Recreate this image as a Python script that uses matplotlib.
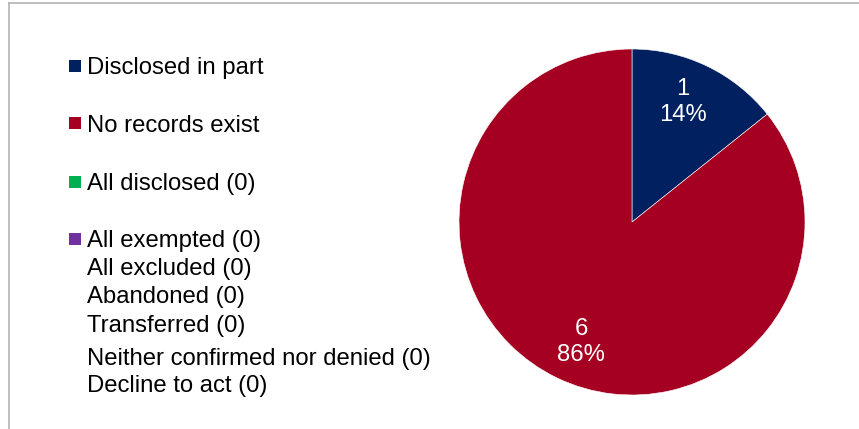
import matplotlib
matplotlib.use("Agg")
import matplotlib.pyplot as plt
from matplotlib.patches import Rectangle
from matplotlib.lines import Line2D

plt.rcParams['font.family'] = ['Liberation Sans', 'DejaVu Sans']

# Data
categories = ["Disclosed in part", "No records exist"]
values = [1, 6]
slice_colors = ["#002060", "#A50021"]

legend_items = ["Disclosed in part", "No records exist", "All disclosed (0)", "All exempted (0)",
                "All excluded (0)", "Abandoned (0)", "Transferred (0)",
                "Neither confirmed nor denied (0)", "Decline to act (0)"]
legend_colors = ["#002060", "#A50021", "#00B050", "#7030A0", None, None, None, None, None]
legend_baselines = [74, 131.7, 190, 247.3, 275, 303.3, 331.7, 365, 391.7]

W, H = 859, 429
fig = plt.figure(figsize=(W / 100, H / 100), dpi=100)

# overlay axes in pixel coordinates for legend/borders
bg = fig.add_axes([0, 0, 1, 1])
bg.set_xlim(0, W)
bg.set_ylim(H, 0)
bg.axis('off')

# borders
bg.add_line(Line2D([9, W], [3, 3], color="#B3B3B3", lw=1.2))
bg.add_line(Line2D([9, 9], [3, H], color="#B3B3B3", lw=1.2))

fs = 17.2
for lab, col, yb in zip(legend_items, legend_colors, legend_baselines):
    if col is not None:
        bg.add_patch(Rectangle((69, yb - 8.5 - 6), 12, 12, facecolor=col, edgecolor='none'))
    bg.text(87, yb, lab, fontsize=fs, color="#000000", ha='left', va='baseline')

# pie
cx, cy, r = 632, 222, 173
ax = fig.add_axes([(cx - r) / W, (H - cy - r) / H, 2 * r / W, 2 * r / H])
total = sum(values)

def fmt(p):
    n = int(round(p * total / 100))
    return f"{n}\n{p:.0f}%"

wedges, texts, autotexts = ax.pie(values, colors=slice_colors, startangle=90, counterclock=False,
                                   autopct=fmt, pctdistance=0.77, radius=1,
                                   wedgeprops=dict(edgecolor='white', linewidth=0.4),
                                   textprops=dict(color='white', fontsize=fs))
for t in autotexts:
    t.set_linespacing(1.2)
    x, y = t.get_position()
    t.set_position((x * 0.88, y))
ax.set_xlim(-1, 1)
ax.set_ylim(-1, 1)
ax.set_aspect('equal')
ax.axis('off')

fig.savefig("out.png", dpi=100, facecolor='white')
